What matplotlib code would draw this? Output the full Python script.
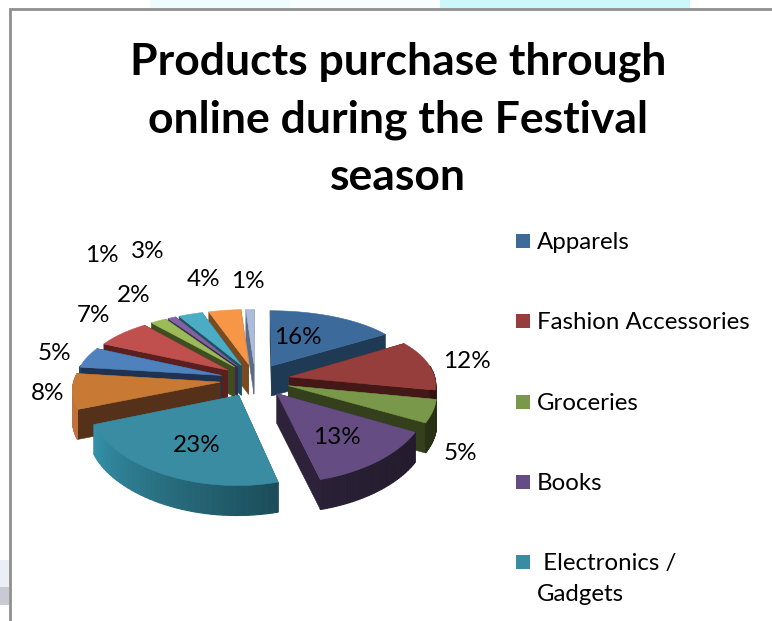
#!/usr/bin/env python3

import numpy as np
import matplotlib.pyplot as plt
from matplotlib.patches import Polygon, Rectangle

title = 'Products purchase through\nonline during the Festival\nseason'
values = [16, 12, 5, 13, 23, 8, 5, 7, 2, 1, 3, 4, 1]
face_colors = ['#3c6a9b', '#953e3b', '#7a9849', '#654d83', '#3a8ca3', '#c87a35',
               '#4f81bd', '#c0504d', '#9bbb59', '#8064a2', '#4bacc6', '#f79646', '#aabcdc']
wall_colors = ['#1f3a55', '#451818', '#343f1c', '#2d2239', '#1f5563', '#55311a',
               '#1f3250', '#5a2020', '#3f4d20', '#3a2a50', '#1f5060', '#7a4a20', '#5d6a85']
legend_names = ['Apparels', 'Fashion Accessories', 'Groceries', 'Books', ' Electronics /\nGadgets']

# label centres in pixels, same order as values
label_x = [298, 467, 460, 337, 197, 48, 54, 94, 134, 102, 148, 204, 248]
label_y = [337, 361, 454, 438, 446, 394, 354, 316, 296, 256, 252, 280, 282]

# pie geometry
cx, cy = 255, 380
scale_x, scale_y = 146, 69
persp_x, persp_y = 0.10, 0.17
explode = 0.24
depth = 30

plt.rcParams['font.family'] = ['Lato', 'DejaVu Sans']

fig = plt.figure(figsize=(7.72, 6.21), dpi=100)
ax = fig.add_axes([0, 0, 1, 1])
ax.set_xlim(0, 772)
ax.set_ylim(621, 0)
ax.axis('off')


def project(x, y, z=0.0):
    # ground plane to pixels, nearer points get bigger
    return cx + scale_x * x / (1 + persp_x * y), cy - scale_y * y / (1 + persp_y * y) + z


def shade(color, amount):
    rgb = np.array(plt.matplotlib.colors.to_rgb(color))
    return tuple(np.clip(rgb * amount, 0, 1))


def add_poly(pts, color, order, lw=0.4):
    ax.add_patch(Polygon(pts, closed=True, facecolor=color, edgecolor=color,
                         linewidth=lw, zorder=order))


# page behind the chart area
ax.add_patch(Rectangle((150, 0), 140, 8, color='#eefcfd', lw=0, zorder=0))
ax.add_patch(Rectangle((290, 0), 150, 8, color='#f8fefe', lw=0, zorder=0))
ax.add_patch(Rectangle((440, 0), 250, 8, color='#cdf8fb', lw=0, zorder=0))
ax.add_patch(Rectangle((0, 560), 9, 30, color='#eceef6', lw=0, zorder=0))
ax.add_patch(Rectangle((0, 587), 9, 18, color='#c8c9d2', lw=0, zorder=0))
ax.plot([9.5, 9.5, 772], [621, 8.5, 8.5], color='#8f8f8f', lw=2, zorder=1,
        solid_joinstyle='miter')

# wedges back to front
total = sum(values)
starts = np.cumsum([0] + values[:-1]) / total * 2 * np.pi
sweeps = np.array(values) / total * 2 * np.pi
mids = starts + sweeps / 2
order = np.argsort(-np.cos(mids))

layer = 2
for i in order:
    ox = explode * np.sin(mids[i])
    oy = explode * np.cos(mids[i])
    th = np.linspace(starts[i], starts[i] + sweeps[i], 40)
    xs = ox + np.sin(th)
    ys = oy + np.cos(th)

    # radial walls
    for end in (0, -1):
        a = project(ox, oy)
        b = project(xs[end], ys[end])
        a2 = project(ox, oy, depth)
        b2 = project(xs[end], ys[end], depth)
        add_poly([a, b, b2, a2], wall_colors[i], layer)
    layer += 1

    # rim, lighter toward the left of the pie
    for j in range(len(th) - 1):
        if np.cos((th[j] + th[j + 1]) / 2) > 0.15:
            continue
        light = 1.0 - 0.25 * np.sin((th[j] + th[j + 1]) / 2)
        if i == 4:
            # the big wedge fades from near black to teal
            light = 0.9 + 0.8 * j / (len(th) - 2)
        if i == 5:
            light = 2.3
        p = [project(xs[j], ys[j]), project(xs[j + 1], ys[j + 1]),
             project(xs[j + 1], ys[j + 1], depth), project(xs[j], ys[j], depth)]
        add_poly(p, shade(wall_colors[i], light), layer, lw=0.8)
    layer += 1

    # top face
    top = [project(ox, oy)] + [project(x, y) for x, y in zip(xs, ys)]
    add_poly(top, face_colors[i], layer)
    layer += 1

for v, x, y in zip(values, label_x, label_y):
    ax.text(x, y, f'{v}%', fontsize=17.5, ha='center', va='center', color='black', zorder=200)

ax.text(398, 119, title, fontsize=32, fontweight='bold', ha='center', va='center',
        linespacing=1.53, color='black', zorder=200)

# legend
legend_y = [241, 321, 402, 482, 562]
for name, y, color in zip(legend_names, legend_y, face_colors):
    ax.add_patch(Rectangle((516, y - 7), 14, 14, color=color, lw=0, zorder=200))
    ax.text(537, y - 9, name, fontsize=17.3, ha='left', va='top', linespacing=1.6,
            color='black', zorder=200)

plt.savefig('out.png', dpi=100)
